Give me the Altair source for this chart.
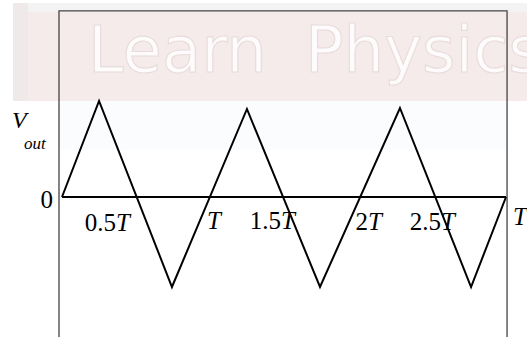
import altair as alt
import pandas as pd

# Triangle-wave output: time in periods T, voltage normalised to peak ≈ 1
wave_t = [0.02, 0.267, 0.753, 1.253, 1.74, 2.273, 2.747, 2.98]
wave_v = [0.0, 1.067, -1.0, 0.978, -1.0, 0.989, -1.0, 0.0]

# Time labels along the zero line: numeric prefix + italic T
tick_prefix = ["0.5", "", "1.5", "2", "2.5", ""]
tick_t = [0.38, 0.987, 1.48, 2.06, 2.547, 3.027]
tick_v = [-0.378, -0.356, -0.356, -0.367, -0.367, -0.311]

# Box drawn around the graph (open at the bottom)
frame_t = [0.0, 0.0, 2.987, 2.987]
frame_v = [-1.556, 2.067, 2.067, -1.556]

# Watermark words and their left edges (px)
wm_words = ["Learn", "Physics"]
wm_left = [88, 305]

W, H = 527, 337
X_DOM = [-59 / 150, (W - 59) / 150]
Y_DOM = [(197 - H) / 90, 197 / 90]

xs = alt.Scale(domain=X_DOM, nice=False, zero=False)
ys = alt.Scale(domain=Y_DOM, nice=False, zero=False)

def X(field):
    return alt.X(field, type="quantitative", scale=xs, axis=None)

def Y(field):
    return alt.Y(field, type="quantitative", scale=ys, axis=None)

wave_df = pd.DataFrame({"t": wave_t, "v": wave_v, "i": range(len(wave_t))})
frame_df = pd.DataFrame({"t": frame_t, "v": frame_v, "i": range(len(frame_t))})
tick_df = pd.DataFrame({"pre": tick_prefix, "t": tick_t, "v": tick_v})
one = pd.DataFrame({"k": [0]})

SERIF = "Liberation Serif"

# faint watermark band behind the top of the graph
top_strip = alt.Chart(one).mark_rect(color="#f3f3f3").encode(
    x=alt.value(13), x2=alt.value(W), y=alt.value(3), y2=alt.value(12)
)
band = alt.Chart(one).mark_rect(color="#f6ebeb").encode(
    x=alt.value(13), x2=alt.value(W), y=alt.value(12), y2=alt.value(101)
)
edge = alt.Chart(one).mark_rect(color="#efe9e9").encode(
    x=alt.value(13), x2=alt.value(28), y=alt.value(3), y2=alt.value(101)
)
tint = alt.Chart(one).mark_rect(color="#fafcfe").encode(
    x=alt.value(60), x2=alt.value(506), y=alt.value(101), y2=alt.value(150)
)

wm_layers = [
    alt.Chart(one).mark_text(
        text=word, font="DejaVu Sans", fontSize=64, align="left",
        baseline="alphabetic", color="#fdfbfb", stroke="#e9dcdc", strokeWidth=1.2,
    ).encode(x=alt.value(left), y=alt.value(72))
    for word, left in zip(wm_words, wm_left)
]

frame = alt.Chart(frame_df).mark_line(color="#444444", strokeWidth=1.3).encode(
    x=X("t"), y=Y("v"), order="i:Q"
)

zero = alt.Chart(one).mark_rule(color="#000000", strokeWidth=2).encode(
    x=alt.datum(wave_t[0], scale=xs, axis=None),
    x2=alt.datum(wave_t[-1]),
    y=alt.datum(0, scale=ys, axis=None),
)

wave = alt.Chart(wave_df).mark_line(color="#000000", strokeWidth=2).encode(
    x=X("t"), y=Y("v"), order="i:Q"
)

tick_pre = alt.Chart(tick_df).mark_text(
    font=SERIF, fontSize=25, align="right", baseline="alphabetic", color="#000000"
).encode(x=X("t"), y=Y("v"), text="pre:N")

tick_T = alt.Chart(tick_df).mark_text(
    font=SERIF, fontSize=25, fontStyle="italic", align="left",
    baseline="alphabetic", color="#000000", text="T",
).encode(x=X("t"), y=Y("v"))

zero_lbl = alt.Chart(one).mark_text(
    font=SERIF, fontSize=25, align="right", baseline="alphabetic", text="0",
    color="#000000",
).encode(x=alt.datum(-0.04, scale=xs), y=alt.datum(-0.122, scale=ys))

v_lbl = alt.Chart(one).mark_text(
    font=SERIF, fontSize=24, fontStyle="italic", align="left",
    baseline="alphabetic", text="V", color="#000000",
).encode(x=alt.datum(-0.313, scale=xs), y=alt.datum(0.767, scale=ys))

out_lbl = alt.Chart(one).mark_text(
    font=SERIF, fontSize=17, fontStyle="italic", align="left",
    baseline="alphabetic", text="out", color="#000000",
).encode(x=alt.datum(-0.233, scale=xs), y=alt.datum(0.533, scale=ys))

chart = alt.layer(
    top_strip, band, edge, tint, *wm_layers, frame, zero, wave, tick_pre, tick_T,
    zero_lbl, v_lbl, out_lbl,
).properties(
    width=W, height=H, padding=0, autosize=alt.AutoSizeParams(type="none"),
    background="#ffffff",
).configure_view(stroke=None)

chart.save("out.html", embed_options={"renderer": "svg", "actions": False})
